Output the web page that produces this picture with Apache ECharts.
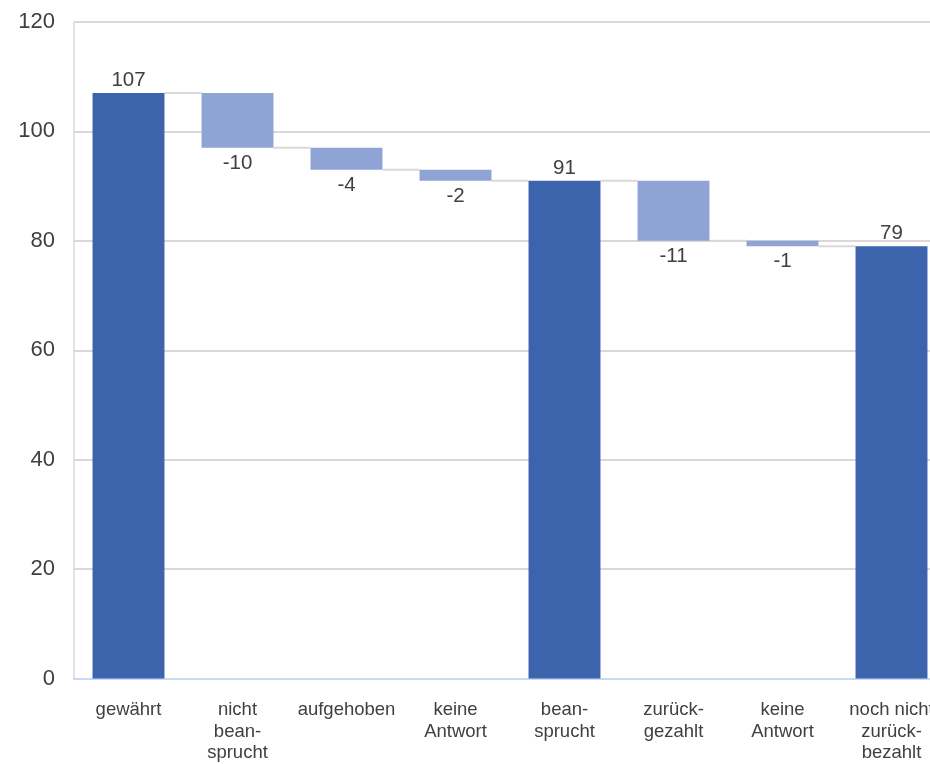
<!DOCTYPE html>
<html>
<head>
<meta charset="utf-8">
<script src="https://cdn.jsdelivr.net/npm/echarts@6/dist/echarts.min.js"></script>
<style>html,body{margin:0;padding:0;background:#fff;overflow:hidden;width:930px;height:764px;}#c{width:948px;height:764px;}</style>
</head>
<body>
<div id="c"></div>
<script>
const categories = ['gewährt', 'nicht\nbean-\nsprucht', 'aufgehoben', 'keine\nAntwort', 'bean-\nsprucht', 'zurück-\ngezahlt', 'keine\nAntwort', 'noch nicht\nzurück-\nbezahlt'];
const values = [107, -10, -4, -2, 91, -11, -1, 79];
const isTotal = [true, false, false, false, true, false, false, true];
const yTicks = { min: 0, max: 120, interval: 20 };

const baseData = [], totalData = [], deltaData = [], connectorData = [];
let running = 0;
values.forEach((v, i) => {
  if (isTotal[i]) {
    running = v;
    baseData.push(0);
    totalData.push(v);
    deltaData.push('-');
  } else {
    const top = running;
    running = running + v;
    baseData.push(Math.min(top, running));
    totalData.push('-');
    deltaData.push({ value: Math.abs(v), orig: v });
  }
  if (i < values.length - 1) connectorData.push([i, running]);
});

const BAR_RATIO = 0.66;
const chart = echarts.init(document.getElementById('c'));
chart.setOption({
  animation: false,
  textStyle: { fontFamily: 'Liberation Sans, Arial, sans-serif' },
  grid: { left: 74, top: 22, height: 663, width: 872, containLabel: false },
  xAxis: {
    type: 'category',
    data: categories,
    axisLine: { lineStyle: { color: '#c6daf4', width: 2 } },
    axisTick: { show: false },
    axisLabel: { interval: 0, fontSize: 18.5, lineHeight: 21.5, color: '#404040', margin: 21, verticalAlign: 'top' }
  },
  yAxis: {
    type: 'value',
    min: yTicks.min, max: yTicks.max, interval: yTicks.interval,
    axisLine: { show: true, lineStyle: { color: '#d9d9d9', width: 1.5 } },
    axisTick: { show: false },
    splitLine: { lineStyle: { color: '#d9d9d9', width: 2 } },
    axisLabel: { fontSize: 22, color: '#404040', margin: 19 }
  },
  series: [
    {
      type: 'custom',
      z: 1,
      renderItem: function (params, api) {
        const i = api.value(0), lvl = api.value(1);
        const bw = api.size([1, 0])[0] * BAR_RATIO;
        const p1 = api.coord([i, lvl]);
        const p2 = api.coord([i + 1, lvl]);
        return {
          type: 'line',
          shape: { x1: p1[0] + bw / 2, y1: p1[1], x2: p2[0] - bw / 2, y2: p2[1] },
          style: { stroke: '#d9d9d9', lineWidth: 2 }
        };
      },
      data: connectorData
    },
    {
      type: 'bar', stack: 'w', barWidth: '66%', z: 2,
      itemStyle: { color: 'transparent' },
      data: baseData
    },
    {
      type: 'bar', stack: 'w', barWidth: '66%', z: 2,
      itemStyle: { color: '#3c64ad' },
      label: { show: true, position: 'top', distance: 2, fontSize: 20.5, color: '#404040' },
      data: totalData
    },
    {
      type: 'bar', stack: 'w', barWidth: '66%', z: 2,
      itemStyle: { color: '#8fa4d5' },
      label: { show: true, position: 'bottom', distance: 5, fontSize: 20.5, color: '#404040',
        formatter: p => String(p.data.orig) },
      data: deltaData
    }
  ]
});
</script>
</body>
</html>
